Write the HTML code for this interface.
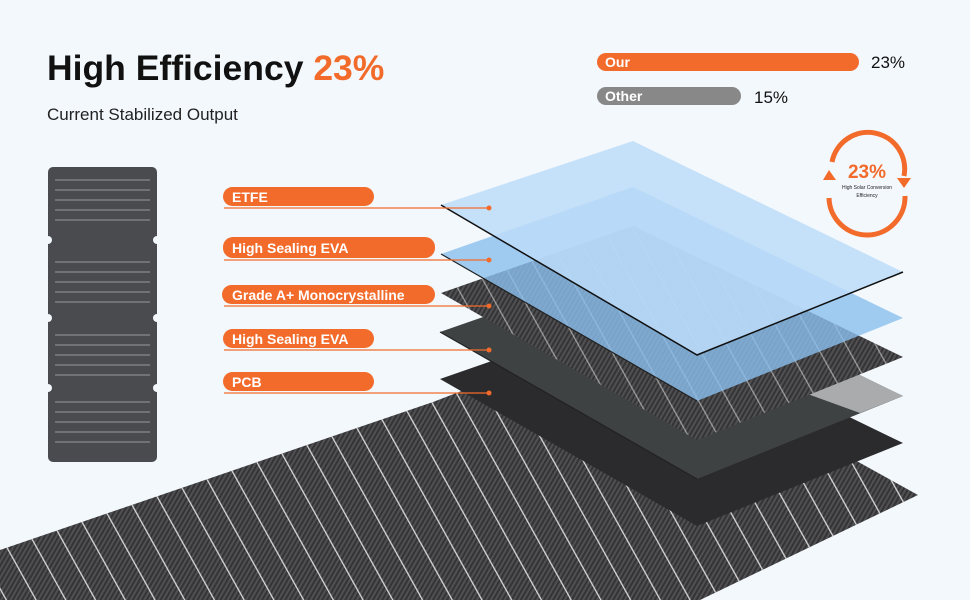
<!DOCTYPE html>
<html><head><meta charset="utf-8"><style>
body{margin:0;background:#f3f8fc}
svg{display:block}
text{font-family:"Liberation Sans",sans-serif}
</style></head><body>
<svg width="970" height="600" viewBox="0 0 970 600" xmlns="http://www.w3.org/2000/svg">
<defs>
<pattern id="cf" width="4" height="4" patternUnits="userSpaceOnUse" patternTransform="rotate(30)">
<rect width="4" height="4" fill="#343436"/><rect width="2" height="4" fill="#505053"/>
</pattern>
<pattern id="cl" width="26" height="600" patternUnits="userSpaceOnUse" patternTransform="rotate(-29)">
<rect x="0" width="1.3" height="600" fill="#d8d8d8"/>
</pattern>
</defs>
<rect width="970" height="600" fill="#f3f8fc"/>
<text x="47" y="80" font-size="35.5" font-weight="bold" fill="#111">High Efficiency <tspan fill="#f26b2b">23%</tspan></text>
<text x="47" y="120" font-size="17" fill="#222">Current Stabilized Output</text>
<rect x="597" y="53" width="262" height="18" rx="9" fill="#f26b2b"/>
<text x="605" y="67" font-size="14" font-weight="bold" fill="#fff">Our</text>
<text x="871" y="68" font-size="17" fill="#111">23%</text>
<rect x="597" y="87" width="144" height="18" rx="9" fill="#888"/>
<text x="605" y="101" font-size="14" font-weight="bold" fill="#fff">Other</text>
<text x="754" y="103" font-size="17" fill="#111">15%</text>
<g fill="none" stroke="#f26b2b" stroke-width="5">
<path d="M 832 162 A 36 36 0 0 1 904 176"/>
<path d="M 905 196 A 36 36 0 0 1 829 198"/>
</g>
<polygon points="897,178 911,178 904,188" fill="#f26b2b"/>
<polygon points="823,180 836,180 829,170" fill="#f26b2b"/>
<text x="867" y="178" font-size="19" font-weight="bold" fill="#f26b2b" text-anchor="middle">23%</text>
<text x="867" y="189" font-size="5" fill="#222" text-anchor="middle">High Solar Conversion</text>
<text x="867" y="197" font-size="5" fill="#222" text-anchor="middle">Efficiency</text>
<rect x="48" y="167" width="109" height="295" rx="5" fill="#4a4b4f"/>
<g stroke="#9a9a9c" stroke-width="1">
<line x1="55" y1="180" x2="150" y2="180"/><line x1="55" y1="190" x2="150" y2="190"/><line x1="55" y1="200" x2="150" y2="200"/><line x1="55" y1="210" x2="150" y2="210"/><line x1="55" y1="220" x2="150" y2="220"/>
<line x1="55" y1="262" x2="150" y2="262"/><line x1="55" y1="272" x2="150" y2="272"/><line x1="55" y1="282" x2="150" y2="282"/><line x1="55" y1="292" x2="150" y2="292"/><line x1="55" y1="302" x2="150" y2="302"/>
<line x1="55" y1="335" x2="150" y2="335"/><line x1="55" y1="345" x2="150" y2="345"/><line x1="55" y1="355" x2="150" y2="355"/><line x1="55" y1="365" x2="150" y2="365"/><line x1="55" y1="375" x2="150" y2="375"/>
<line x1="55" y1="402" x2="150" y2="402"/><line x1="55" y1="412" x2="150" y2="412"/><line x1="55" y1="422" x2="150" y2="422"/><line x1="55" y1="432" x2="150" y2="432"/><line x1="55" y1="442" x2="150" y2="442"/>
</g>
<g fill="#f3f8fc"><circle cx="48" cy="240" r="4"/><circle cx="157" cy="240" r="4"/><circle cx="48" cy="318" r="4"/><circle cx="157" cy="318" r="4"/><circle cx="48" cy="388" r="4"/><circle cx="157" cy="388" r="4"/></g>
<polygon points="0,550 433,402 620,330 918,495 700,600 0,600" fill="url(#cf)"/>
<polygon points="0,550 433,402 620,330 918,495 700,600 0,600" fill="url(#cl)"/>
<g>
<polygon points="440,379 633,312 903,443 697,526" fill="#2b2b2d"/>
<polygon points="440,332 633,265 903,396 697,479" fill="#3f4243"/>
<polygon points="540,297 633,265 903,396 860,413" fill="#a9abad"/>
<polygon points="441,293 633,226 903,357 697,440" fill="url(#cf)"/>
<polygon points="441,293 633,226 903,357 697,440" fill="url(#cl)" opacity="0.6"/>
<polygon points="441,254 633,187 903,318 697,401" fill="#8bbfee" opacity="0.8"/>
<polygon points="441,205 633,141 903,272 697,355" fill="#bcdcf8" opacity="0.85"/>
<polyline points="441,205 697,355 903,272" fill="none" stroke="#111" stroke-width="1.5"/>
<polyline points="441,254 697,401" fill="none" stroke="#222" stroke-width="1.2"/>
<polyline points="440,332 697,479" fill="none" stroke="#222" stroke-width="1.2"/>
</g>
<g fill="#f26b2b">
<rect x="223" y="187" width="151" height="19" rx="9.5"/>
<rect x="223" y="237" width="212" height="21" rx="10"/>
<rect x="222" y="285" width="213" height="19" rx="9.5"/>
<rect x="223" y="329" width="151" height="19" rx="9.5"/>
<rect x="223" y="372" width="151" height="19" rx="9.5"/>
<circle cx="489" cy="208" r="2.5"/><circle cx="489" cy="260" r="2.5"/><circle cx="489" cy="306" r="2.5"/><circle cx="489" cy="350" r="2.5"/><circle cx="489" cy="393" r="2.5"/>
</g>
<g stroke="#f26b2b" stroke-width="1.2">
<line x1="224" y1="208" x2="489" y2="208"/><line x1="224" y1="260" x2="489" y2="260"/><line x1="224" y1="306" x2="489" y2="306"/><line x1="224" y1="350" x2="489" y2="350"/><line x1="224" y1="393" x2="489" y2="393"/>
</g>
<g fill="#fff" font-size="14" font-weight="bold">
<text x="232" y="202">ETFE</text>
<text x="232" y="253">High Sealing EVA</text>
<text x="232" y="300">Grade A+ Monocrystalline</text>
<text x="232" y="344">High Sealing EVA</text>
<text x="232" y="387">PCB</text>
</g>
</svg>
</body></html>
